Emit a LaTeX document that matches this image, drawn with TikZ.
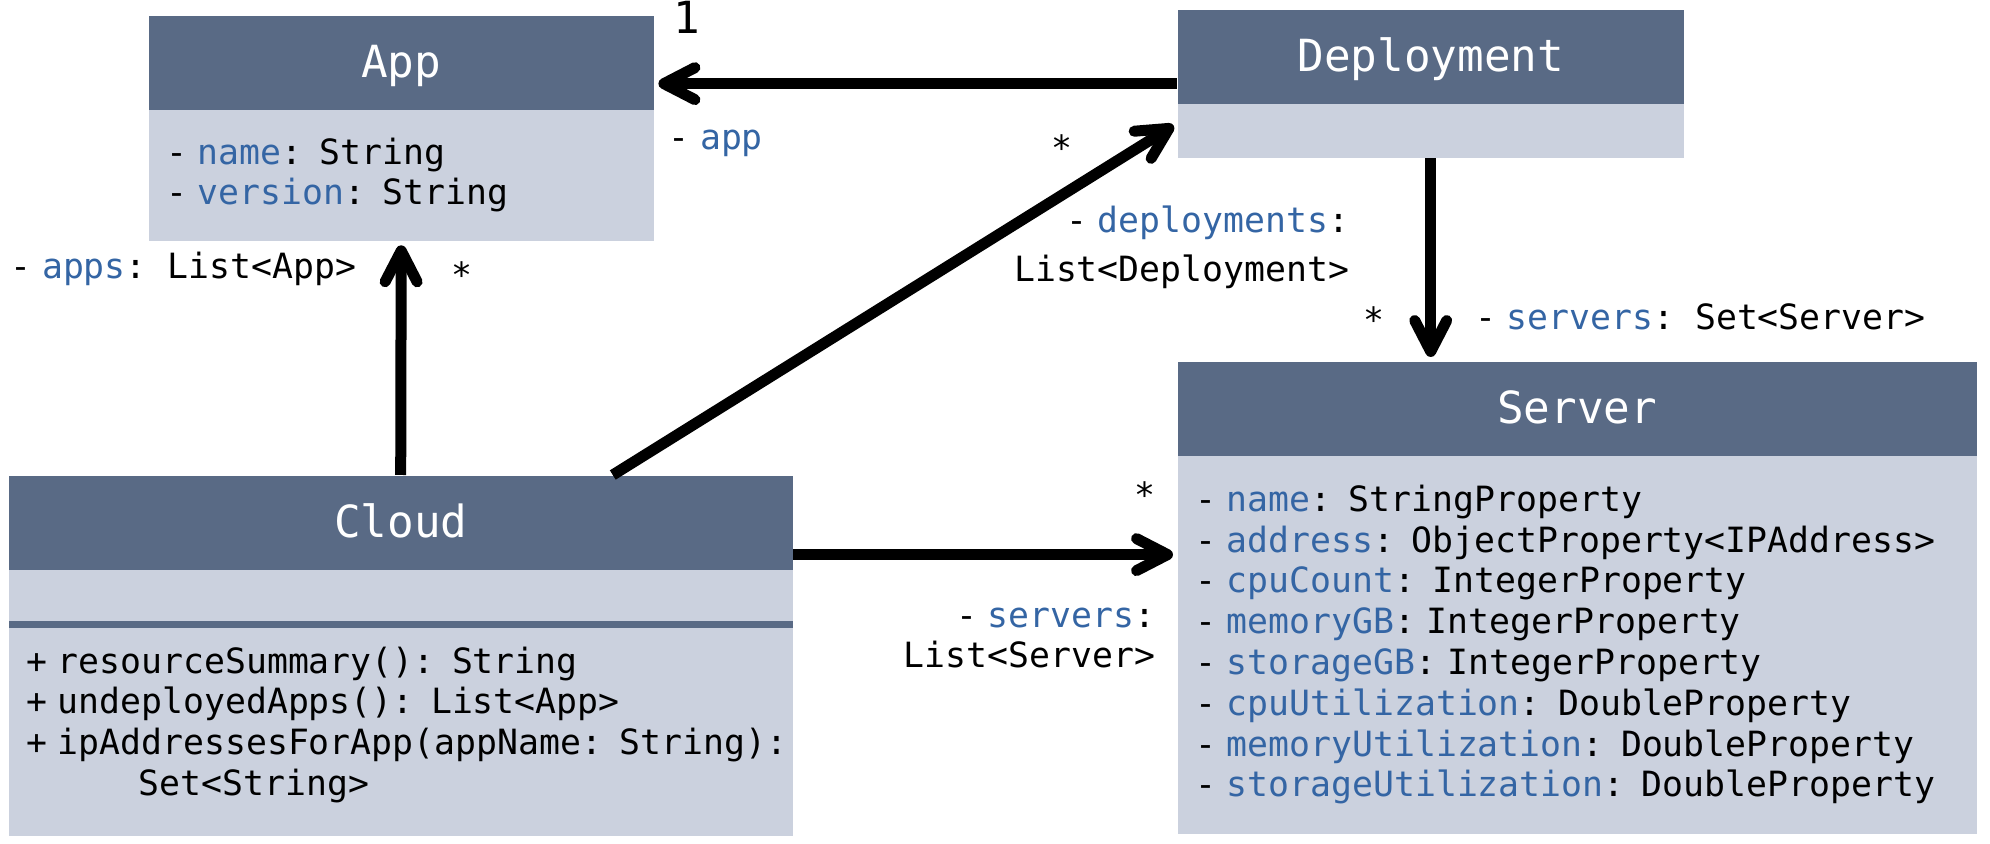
\documentclass[tikz,border=0pt]{standalone}
\usepackage{fontspec}
\setmonofont{DejaVu Sans Mono}
\usetikzlibrary{positioning,calc,arrows.meta}
\definecolor{headfill}{RGB}{89,106,133}
\definecolor{bodyfill}{RGB}{203,209,222}
\definecolor{fieldblue}{RGB}{52,101,164}
\newcommand{\classfont}{\ttfamily\fontsize{12.6}{15}\selectfont}
\newcommand{\memberfont}{\ttfamily\fontsize{9.9}{11.6}\selectfont}
\newcommand{\fld}[1]{\textcolor{fieldblue}{#1}}
\newcommand{\priv}{-\kern0.3em}
\newcommand{\pub}{+\kern0.3em}

\begin{document}
\begin{tikzpicture}[inner sep=0pt,
    class head/.style={fill=headfill,text=white,font=\classfont,minimum height=0.945cm,
                       text height=0.4cm,text depth=0.11cm},
    class body/.style={fill=bodyfill,font=\memberfont,align=left,inner xsep=0.175cm},
    assoc/.style={line width=0.11cm,-{Straight Barb[length=0.31cm,width=0.32cm,round]},
                  shorten >=0.04cm},
    role/.style={font=\memberfont},
    mult/.style={font=\memberfont,anchor=base}]
  \useasboundingbox (0,0) rectangle (19.9,-8.44);

  \node[class head,minimum width=5.05cm,anchor=north west] (apphead) at (1.48,-0.15) {App};
  \node[class body,text width=4.70cm,minimum height=1.31cm] (appbody) [below=-0.02cm of apphead]
    {\priv\fld{name}: String\\
     \priv\fld{version}: String};

  \node[class head,minimum width=5.06cm,anchor=north west] (dephead) at (11.77,-0.09) {Deployment};
  \node[class body,minimum width=5.06cm,minimum height=0.54cm] (depbody) [below=-0.02cm of dephead] {};

  \node[class head,minimum width=7.99cm,anchor=north west] (servhead) at (11.77,-3.61) {Server};
  \node[class body,text width=7.64cm,minimum height=3.78cm] (servbody) [below=-0.02cm of servhead]
    {\priv\fld{name}: StringProperty\\
     \priv\fld{address}: ObjectProperty<IPAddress>\\
     \priv\fld{cpuCount}: IntegerProperty\\
     \priv\fld{memoryGB}: IntegerProperty\\
     \priv\fld{storageGB}: IntegerProperty\\
     \priv\fld{cpuUtilization}: DoubleProperty\\
     \priv\fld{memoryUtilization}: DoubleProperty\\
     \priv\fld{storageUtilization}: DoubleProperty};

  \node[class head,minimum width=7.84cm,anchor=north west] (cloudhead) at (0.08,-4.75) {Cloud};
  \node[class body,minimum width=7.84cm,minimum height=0.51cm] (cloudattr) [below=-0.02cm of cloudhead] {};
  \node[class body,text width=7.49cm,minimum height=2.10cm] (cloudops) [below=0.04cm of cloudattr]
    {\pub resourceSummary(): String\\
     \pub undeployedApps(): List<App>\\
     \pub\mbox{ipAddressesForApp(appName: String):}\\
     \hspace*{3.24em}Set<String>\rule[-0.2cm]{0pt}{0pt}};
  \node[fill=headfill,minimum width=7.84cm,minimum height=0.07cm] (cloudsep) [below=-0.01cm of cloudattr] {};

  \coordinate (depmid) at ($(dephead.north west)!0.5!(depbody.south west)$);
  \coordinate (depin) at ($(depbody.north west)!0.37!(depbody.south west)$);
  \coordinate (cloudup) at ($(cloudhead.north west)!0.77!(cloudhead.north east)$);
  \coordinate (cloudout) at ($(cloudhead.north east)!0.83!(cloudhead.south east)$);

  \draw[assoc] (depmid) -- (depmid -| apphead.east);
  \draw[assoc] (cloudhead.north) -- (appbody.south);
  \draw[assoc] (cloudup) -- (depin);
  \draw[assoc] (depbody.south) -- (depbody.south |- servhead.north);
  \draw[assoc] (cloudout) -- (cloudout -| servhead.west);

  \node[font=\classfont,anchor=base] (appone) at (6.87,-0.34) {1};
  \node[role,anchor=base west] (approle) at (6.68,-1.50) {\priv\fld{app}};
  \node[mult] (depmany) at (10.62,-1.61) {*};
  \node[role,anchor=base east] (deprole) at (13.50,-2.33) {\priv\fld{deployments}:};
  \node[role,anchor=base east] (deptype) at (13.50,-2.82) {List<Deployment>};
  \node[mult] (servmany) at (13.74,-3.33) {*};
  \node[role,anchor=base west] (servrole) at (14.745,-3.30) {\priv\fld{servers}: Set<Server>};
  \node[role,anchor=base west] (appsrole) at (0.10,-2.79) {\priv\fld{apps}: List<App>};
  \node[mult] (appmany) at (4.62,-2.88) {*};
  \node[mult] (cloudmany) at (11.45,-5.08) {*};
  \node[role,anchor=base east] (cloudrole) at (11.56,-6.27) {\priv\fld{servers}:};
  \node[role,anchor=base east] (cloudtype) at (11.56,-6.68) {List<Server>};
\end{tikzpicture}
\end{document}
